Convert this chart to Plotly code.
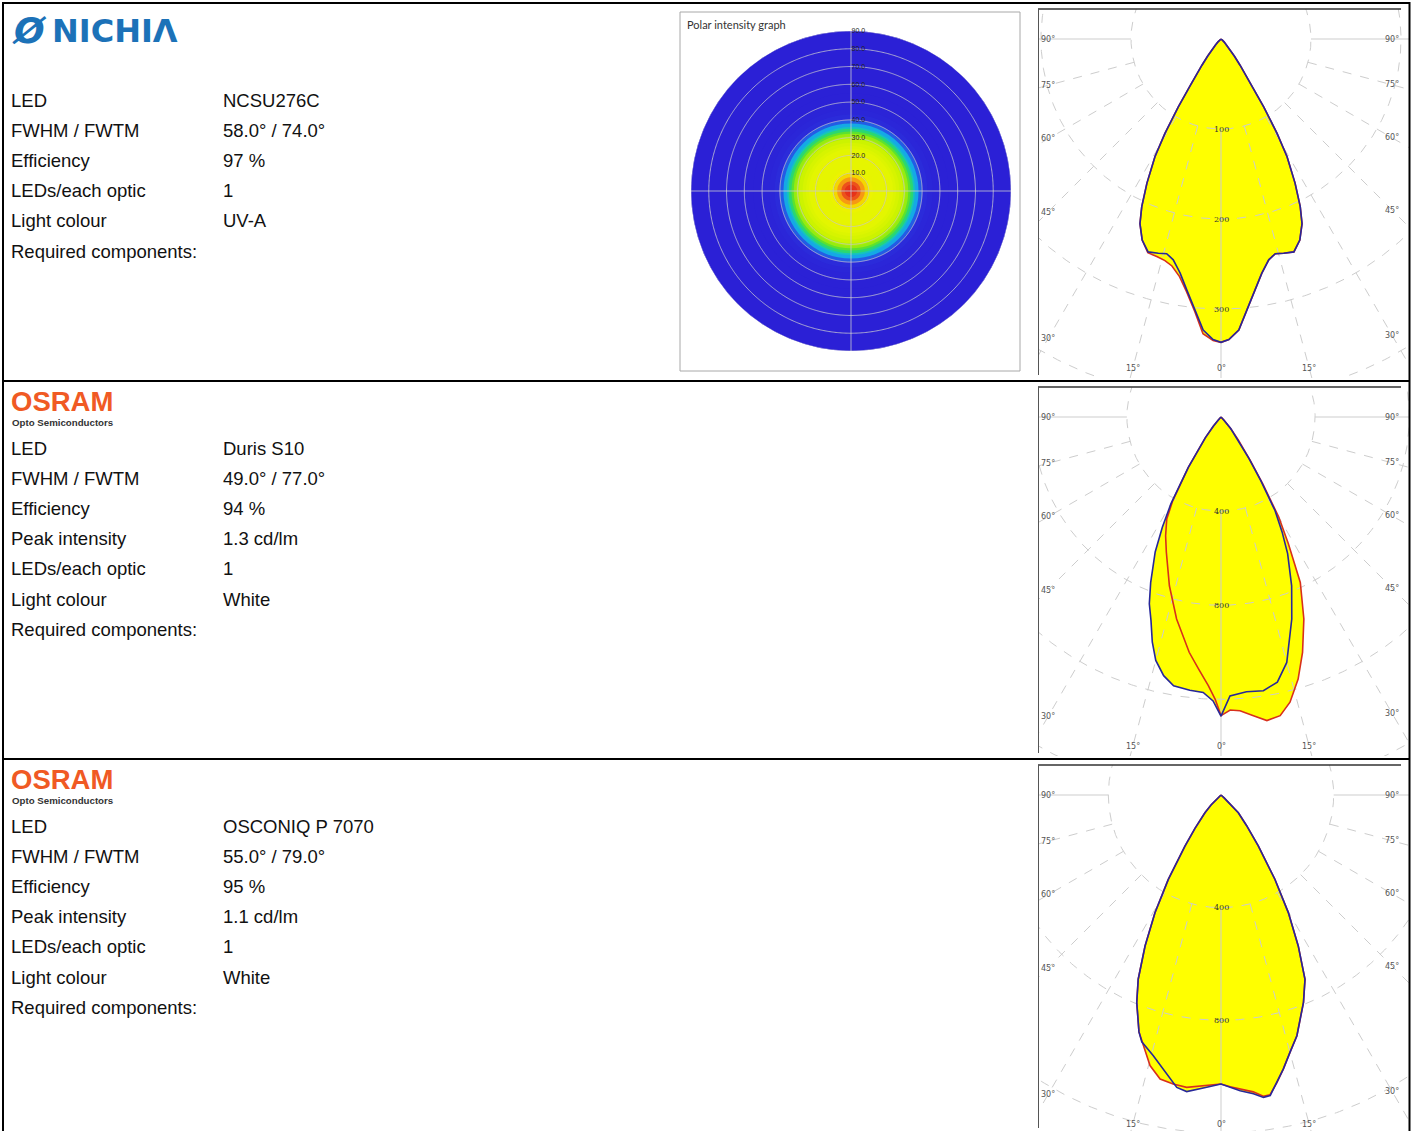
import numpy as np
import plotly.graph_objects as go

W, H = 1413, 1131

# ---------------- data ----------------
# Polar curves: angle from nadir in degrees (negative = left half), intensity in cd/klm
p1_angle = [-90, -60, -55, -50, -46, -43, -40, -38, -36, -35, -33.5, -32.2, -30.7, -29.3, -27.2, -25.3, -23.7,
            -21.4, -18.9, -16.3, -14.2, -12.2, -9.9, -7.8, -5.5, -3.5, -1.5, 0,
            1.5, 3.5, 5.5, 7.8, 9.9, 12.2, 14.2, 16.3, 18.9, 21.4, 23.7, 25.3, 27.2, 29.3, 30.7, 32.2,
            33.5, 35, 36, 38, 40, 43, 46, 50, 55, 60, 90]
p1_c0 = [0, 0, 1, 2, 5, 9, 16, 24, 36, 45, 62, 89, 122, 150, 180, 206, 224,
         240, 250, 248, 246, 251, 264, 281, 302, 324, 334, 337,
         334, 324, 302, 281, 264, 251, 246, 248, 250, 240, 224, 206, 180, 150, 122, 89,
         62, 45, 36, 24, 16, 9, 5, 2, 1, 0, 0]
p1_c90 = [0, 0, 1, 2, 5, 9, 16, 24, 36, 45, 62, 89, 122, 150, 180, 206, 224,
          240, 251, 252, 254, 258, 268, 283, 304, 328, 335, 337,
          334, 324, 302, 281, 264, 251, 246, 248, 250, 240, 224, 206, 180, 150, 122, 89,
          62, 45, 36, 24, 16, 9, 5, 2, 1, 0, 0]
p1_rings = [100, 200, 300, 400]
p1_ring_labels = ["100", "200", "300"]

p2_c0_angle = [-90, -50, -45, -42, -40, -37, -33, -30, -28, -26, -23, -21, -19, -17, -15, -12.5, -10, -6.5,
               -3.7, -1.6, 0, 1.85, 5.3, 8.8, 12, 15, 19.3, 22.7, 26, 28, 30, 32, 34, 37, 40, 43, 46, 50, 90]
p2_c0 = [0, 0, 4, 17, 51, 110, 255, 425, 531, 638, 765, 850, 914, 999, 1071, 1126, 1160, 1169,
         1173, 1207, 1271, 1186, 1173, 1177, 1152, 1080, 910, 778, 646, 553, 459, 319, 213, 119, 64, 17, 4, 0, 0]
p2_c90_angle = [-90, -50, -45, -42, -40, -37, -33, -30, -28, -25, -22, -17, -12.4, -7.7, -5.1, -2.7, -1.2, 0,
                1.8, 3.7, 6.2, 8.6, 11.2, 13.6, 16.4, 19.1, 22.3, 25.6, 28, 30, 32, 34, 37, 40, 43, 46, 50, 90]
p2_c90 = [0, 0, 4, 17, 51, 110, 255, 410, 491, 557, 620, 750, 879, 1009, 1075, 1143, 1199, 1269,
          1246, 1251, 1277, 1305, 1294, 1247, 1161, 1059, 928, 780, 610, 490, 335, 222, 122, 66, 18, 4, 0, 0]
p2_rings = [400, 800, 1200, 1600]
p2_ring_labels = ["400", "800"]

p3_c0_angle = [-90, -52, -48, -45, -42.1, -38, -35.2, -32, -29.3, -26.7, -24.2, -22.1, -19.1, -17.8, -14.6,
               -11.9, -9.4, -8.6, -6.6, -4.7, -2.8, 0, 1.8, 3.7, 6.2, 8, 9.3, 11, 12.8, 15, 17.5, 21.7,
               24.5, 27.1, 29.8, 32.6, 36.2, 40, 44.4, 48, 52, 90]
p3_c0 = [0, 0, 15, 50, 85, 150, 222, 353, 479, 600, 717, 795, 890, 920, 956,
         994, 1034, 1050, 1060, 1050, 1039, 1026, 1038, 1052, 1067, 1084, 1081, 1039, 998, 946, 896, 792,
         719, 602, 481, 355, 224, 140, 88, 15, 0, 0]
p3_c90_angle = [-90, -52, -48, -45, -42.1, -38, -35.2, -32, -29.3, -26.7, -24.2, -22.1, -19.1, -17.2, -14.7,
                -12.1, -9.4, -6.7, -3.5, 0, 1.8, 3.7, 6.2, 8, 9.3, 11, 12.8, 15, 17.5, 21.7,
                24.5, 27.1, 29.8, 32.6, 36.2, 40, 44.4, 48, 52, 90]
p3_c90 = [0, 0, 15, 50, 85, 150, 222, 353, 479, 600, 717, 795, 890, 932, 993,
          1031, 1040, 1045, 1034, 1026, 1036, 1045, 1060, 1080, 1078, 1040, 998, 946, 896, 792,
          719, 602, 481, 355, 224, 140, 88, 15, 0, 0]
p3_rings = [400, 800, 1200]
p3_ring_labels = ["400", "800"]

# Info table
labels_1 = ["LED", "FWHM / FWTM", "Efficiency", "LEDs/each optic", "Light colour", "Required components:"]
values_1 = ["NCSU276C", "58.0° / 74.0°", "97 %", "1", "UV-A", ""]
labels_2 = ["LED", "FWHM / FWTM", "Efficiency", "Peak intensity", "LEDs/each optic", "Light colour",
            "Required components:"]
values_2 = ["Duris S10", "49.0° / 77.0°", "94 %", "1.3 cd/lm", "1", "White", ""]
labels_3 = labels_2
values_3 = ["OSCONIQ P 7070", "55.0° / 79.0°", "95 %", "1.1 cd/lm", "1", "White", ""]

heat_ticks = [10, 20, 30, 40, 50, 60, 70, 80, 90]
heat_cross = [0, 90]
grid_angles = [-90, -75, -60, -45, -30, -15, 0, 15, 30, 45, 60, 75, 90]


# ---------------- helpers ----------------
def px(x):
    return x / W


def py(y):
    return 1 - y / H


fig = go.Figure()
annotations = []
shapes = []
FONT = "Liberation Sans, Arial, sans-serif"

# ---------------- heat disk (polar subplot) ----------------
h_ang = [a for a in p1_angle if a >= 0]
h_val = [v for a, v in zip(p1_angle, p1_c0) if a >= 0]
# nested discs, largest first so that inner ones lie on top (no seams)
outer = h_ang[1:][::-1]
cols = h_val[:-1][::-1]
heat_scale = [
    [0.00, "#2b20d6"], [0.05, "#2b2cda"], [0.08, "#2070ea"], [0.11, "#14b0e4"],
    [0.15, "#18d2a0"], [0.22, "#40dc40"], [0.35, "#92ec10"], [0.50, "#c8f200"],
    [0.70, "#e2f600"], [0.80, "#eef200"], [0.86, "#f8c400"], [0.92, "#f47c20"],
    [1.00, "#e42a18"]]
fig.add_trace(go.Barpolar(
    r=outer, base=[0] * len(outer), theta=[180] * len(outer), width=[360] * len(outer),
    marker=dict(color=cols, colorscale=heat_scale, cmin=0, cmax=max(h_val), line=dict(width=0)),
    hoverinfo="skip", showlegend=False, subplot="polar"))

# grid drawn as traces so it lies over the colour disc
gridc = "rgba(200,200,210,0.8)"
th = np.linspace(0, 360, 721)
for R in heat_ticks:
    fig.add_trace(go.Scatterpolar(r=[R] * len(th), theta=th, mode="lines", line=dict(color=gridc, width=1),
                                  hoverinfo="skip", showlegend=False, subplot="polar"))
for a in heat_cross:
    fig.add_trace(go.Scatterpolar(r=[heat_ticks[-1], heat_ticks[-1]], theta=[a, a + 180], mode="lines",
                                  line=dict(color=gridc, width=1), hoverinfo="skip", showlegend=False,
                                  subplot="polar"))

fig.update_layout(polar=dict(
    domain=dict(x=[px(691), px(1011)], y=[py(351), py(31)]),
    bgcolor="#2b20d6", hole=0, barmode="overlay",
    radialaxis=dict(range=[0, 90], tickvals=heat_ticks, ticktext=[f"{t:.1f}" for t in heat_ticks],
                    angle=90, tickangle=90, showline=False, ticks="", showgrid=False,
                    tickfont=dict(size=7, color="#222", family=FONT), layer="above traces"),
    angularaxis=dict(showticklabels=False, ticks="", showline=False, showgrid=False)))

shapes.append(dict(type="rect", xref="paper", yref="paper", x0=px(680), x1=px(1020), y0=py(371), y1=py(12),
                   line=dict(color="#a8a8a8", width=1)))
annotations.append(dict(text="Polar intensity graph", xref="paper", yref="paper", x=px(685), y=py(25),
                        xanchor="left", yanchor="middle", showarrow=False,
                        font=dict(size=11, color="#333", family="Lato, sans-serif")))

# ---------------- polar candela diagrams (cartesian) ----------------
panels = [
    dict(a0=p1_angle, c0=p1_c0, a90=p1_angle, c90=p1_c90, rings=p1_rings, rlab=p1_ring_labels,
         top=9, bottom=378, k=1.111),
    dict(a0=p2_c0_angle, c0=p2_c0, a90=p2_c90_angle, c90=p2_c90, rings=p2_rings, rlab=p2_ring_labels,
         top=387, bottom=756, k=4.25),
    dict(a0=p3_c0_angle, c0=p3_c0, a90=p3_c90_angle, c90=p3_c90, rings=p3_rings, rlab=p3_ring_labels,
         top=765, bottom=1131, k=3.55),
]
X0, X1, OX = 1039, 1409, 1221
BLUE, RED, YEL = "#27279a", "#d8301c", "#ffff00"
RINGC = "#cdcdcd"


def xy(angles, vals):
    t = np.radians(np.array(angles, dtype=float))
    r = np.array(vals, dtype=float)
    return r * np.sin(t), -r * np.cos(t)


for i, p in enumerate(panels):
    xa = "x" if i == 0 else f"x{i + 1}"
    ya = "y" if i == 0 else f"y{i + 1}"
    k = p["k"]
    oy = p["top"] + 30
    xr = [(X0 - OX) * k, (X1 - OX) * k]
    yr = [-(p["bottom"] - oy) * k, (oy - p["top"]) * k]
    ax_kw = dict(showgrid=False, zeroline=False, showticklabels=False, ticks="", showline=False, fixedrange=True)
    fig.update_layout(**{
        ("xaxis" if i == 0 else f"xaxis{i + 1}"): dict(domain=[px(X0), px(X1)], range=xr, anchor=ya, **ax_kw),
        ("yaxis" if i == 0 else f"yaxis{i + 1}"): dict(domain=[py(p["bottom"]), py(p["top"])], range=yr,
                                                        anchor=xa, **ax_kw)})

    # fills
    for ang, val in ((p["a90"], p["c90"]), (p["a0"], p["c0"])):
        x, y = xy(ang, val)
        fig.add_trace(go.Scatter(x=x, y=y, mode="lines", fill="toself", fillcolor=YEL,
                                 line=dict(width=0, color=YEL), hoverinfo="skip", showlegend=False,
                                 xaxis=xa, yaxis=ya))
    # rings
    tt = np.linspace(0, 2 * np.pi, 721)
    for R in p["rings"]:
        fig.add_trace(go.Scatter(x=R * np.sin(tt), y=R * np.cos(tt), mode="lines",
                                 line=dict(color=RINGC, width=1, dash="dash"), hoverinfo="skip",
                                 showlegend=False, xaxis=xa, yaxis=ya))
    # rays
    R1 = p["rings"][0]
    Rf = p["rings"][-1] * 3
    for g in grid_angles:
        x, y = xy([g, g], [R1, Rf])
        fig.add_trace(go.Scatter(x=x, y=y, mode="lines",
                                 line=dict(color=RINGC, width=1, dash="solid" if g in (0, 90, -90) else "dash"),
                                 hoverinfo="skip", showlegend=False, xaxis=xa, yaxis=ya))
    # curves
    for ang, val, col in ((p["a90"], p["c90"], RED), (p["a0"], p["c0"], BLUE)):
        x, y = xy(ang, val)
        fig.add_trace(go.Scatter(x=x, y=y, mode="lines", line=dict(color=col, width=1.6),
                                 hoverinfo="skip", showlegend=False, xaxis=xa, yaxis=ya))
    # ring labels
    for R, lab in zip(p["rings"], p["rlab"]):
        annotations.append(dict(text=lab, x=0, y=-R, xref=xa, yref=ya, showarrow=False,
                                font=dict(size=8, color="#333", family="DejaVu Serif, serif")))
    # angle labels at box edges
    for g in grid_angles:
        t = np.radians(g)
        s, c = np.sin(t), np.cos(t)
        cand = []
        if s > 1e-6:
            cand.append(171 / s)
        if s < -1e-6:
            cand.append(173 / -s)
        if c > 1e-6:
            cand.append(329 / c)
        d = min(cand) * k
        annotations.append(dict(text=f"{abs(g)}°", x=d * s, y=-d * c, xref=xa, yref=ya, showarrow=False,
                                font=dict(size=8, color="#555", family="DejaVu Sans, sans-serif")))
    # image frame (top and left edges)
    shapes.append(dict(type="line", xref="paper", yref="paper", x0=px(1038), x1=px(1401),
                       y0=py(p["top"]), y1=py(p["top"]), line=dict(color="#333", width=1.5)))
    shapes.append(dict(type="line", xref="paper", yref="paper", x0=px(1038.5), x1=px(1038.5),
                       y0=py(p["top"]), y1=py(min(p["bottom"] - 3, H)), line=dict(color="#555", width=1)))

# ---------------- info text ----------------
rows = [(labels_1, values_1, 100), (labels_2, values_2, 448), (labels_3, values_3, 826)]
for labs, vals, y0 in rows:
    for j, (lab, val) in enumerate(zip(labs, vals)):
        yy = y0 + j * 30.2
        annotations.append(dict(text=lab, xref="paper", yref="paper", x=px(9), y=py(yy), xanchor="left",
                                yanchor="middle", showarrow=False, font=dict(size=18.5, color="#111", family=FONT)))
        if val:
            annotations.append(dict(text=val, xref="paper", yref="paper", x=px(221), y=py(yy), xanchor="left",
                                    yanchor="middle", showarrow=False,
                                    font=dict(size=18.5, color="#111", family=FONT)))

# logos
annotations.append(dict(text="<b><i>Ø</i></b>", xref="paper", yref="paper", x=px(10), y=py(30), xanchor="left",
                        yanchor="middle", showarrow=False,
                        font=dict(size=36, color="#1c72b8", family="DejaVu Sans, sans-serif")))
annotations.append(dict(text="<b>NICHIΛ</b>", xref="paper", yref="paper", x=px(50), y=py(31), xanchor="left",
                        yanchor="middle", showarrow=False,
                        font=dict(size=32, color="#1c72b8", family="DejaVu Sans, sans-serif")))
for ly in (401, 779):
    annotations.append(dict(text="<b>OSRAM</b>", xref="paper", yref="paper", x=px(9), y=py(ly), xanchor="left",
                            yanchor="middle", showarrow=False,
                            font=dict(size=27.5, color="#f05a24", family=FONT)))
    annotations.append(dict(text="<b>Opto Semiconductors</b>", xref="paper", yref="paper", x=px(10),
                            y=py(ly + 21), xanchor="left", yanchor="middle", showarrow=False,
                            font=dict(size=9.7, color="#333", family=FONT)))

# page frame and row separators
BK = dict(color="#000", width=2)
for yline in (3, 381, 759):
    shapes.append(dict(type="line", xref="paper", yref="paper", x0=px(2), x1=px(1410), y0=py(yline), y1=py(yline),
                       line=BK))
for xline in (3, 1409.5):
    shapes.append(dict(type="line", xref="paper", yref="paper", x0=px(xline), x1=px(xline), y0=py(2), y1=py(H + 2),
                       line=BK))

fig.update_layout(width=W, height=H, margin=dict(l=0, r=0, t=0, b=0), paper_bgcolor="white",
                  plot_bgcolor="rgba(0,0,0,0)", annotations=annotations, shapes=shapes, showlegend=False)

fig.write_html("out.html", config={"displayModeBar": False, "staticPlot": True},
               post_script="document.body.style.margin='0';document.body.style.overflow='hidden';")
